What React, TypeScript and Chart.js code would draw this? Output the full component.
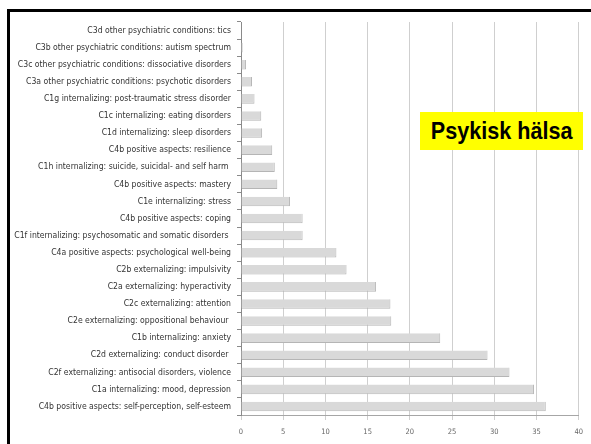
import React, { useEffect, useRef } from "react";
import { Chart, registerables } from "chart.js";

Chart.register(...registerables);

const categories: string[] = [
  "C3d other psychiatric conditions: tics",
  "C3b other psychiatric conditions: autism spectrum",
  "C3c other psychiatric conditions: dissociative disorders",
  "C3a other psychiatric conditions: psychotic disorders",
  "C1g internalizing: post-traumatic stress disorder",
  "C1c internalizing: eating disorders",
  "C1d internalizing: sleep disorders",
  "C4b positive aspects: resilience",
  "C1h internalizing: suicide, suicidal- and self harm ",
  "C4b positive aspects: mastery",
  "C1e internalizing: stress",
  "C4b positive aspects: coping",
  "C1f internalizing: psychosomatic and somatic disorders ",
  "C4a positive aspects: psychological well-being",
  "C2b externalizing: impulsivity",
  "C2a externalizing: hyperactivity",
  "C2c externalizing: attention",
  "C2e externalizing: oppositional behaviour ",
  "C1b internalizing: anxiety",
  "C2d externalizing: conduct disorder ",
  "C2f externalizing: antisocial disorders, violence",
  "C1a internalizing: mood, depression",
  "C4b positive aspects: self-perception, self-esteem",
];

const values: number[] = [
  0, 0.2, 0.6, 1.3, 1.6, 2.4, 2.5, 3.7, 4.0, 4.3, 5.8, 7.3, 7.3, 11.3, 12.5,
  16.0, 17.7, 17.8, 23.6, 29.2, 31.8, 34.7, 36.1,
];

const xTicks: number[] = [0, 5, 10, 15, 20, 25, 30, 35, 40];

const titleText = "Psykisk hälsa";

const labelFont = "'Liberation Sans Narrow', 'DejaVu Sans Condensed', 'Roboto Condensed', sans-serif";

export default function App() {
  const ref = useRef<HTMLCanvasElement | null>(null);

  useEffect(() => {
    if (!ref.current) return;
    const chart = new Chart(ref.current, {
      type: "bar",
      data: {
        labels: categories,
        datasets: [
          {
            data: values,
            backgroundColor: "#d9d9d9",
            borderColor: "#b5b5b5",
            borderWidth: { top: 0, left: 0, right: 1, bottom: 1 } as any,
            barPercentage: 0.56,
            categoryPercentage: 1,
          },
        ],
      },
      options: {
        indexAxis: "y",
        responsive: false,
        animation: false,
        devicePixelRatio: 1,
        layout: { padding: { left: 0, right: 9, top: 22, bottom: 0 } },
        plugins: {
          legend: { display: false },
          tooltip: { enabled: false },
          title: { display: false },
        },
        scales: {
          x: {
            min: 0,
            max: 40,
            afterBuildTicks: (scale: any) => {
              scale.ticks = xTicks.map((v) => ({ value: v }));
            },
            afterFit: (scale: any) => {
              scale.height = 29;
            },
            grid: {
              color: "#cfcfcf",
              lineWidth: 1,
              tickLength: 5,
              drawTicks: true,
            },
            border: { color: "#a6a6a6", width: 1 },
            ticks: {
              padding: 8,
              color: "#666",
              font: { family: labelFont, size: 7.5 },
              maxRotation: 0,
            },
          },
          y: {
            afterFit: (scale: any) => {
              scale.width = 241;
            },
            grid: {
              drawOnChartArea: false,
              color: "#8a8a8a",
              tickLength: 4,
            },
            border: { color: "#8a8a8a", width: 1 },
            ticks: {
              padding: 6,
              color: "#333",
              autoSkip: false,
              font: { family: labelFont, size: 8.6 },
            },
          },
        },
      },
    });
    return () => chart.destroy();
  }, []);

  return (
    <div
      style={{
        position: "absolute",
        left: 0,
        top: 0,
        width: 591,
        height: 444,
        background: "#fff",
        overflow: "hidden",
      }}
    >
      <canvas ref={ref} width={591} height={444} style={{ position: "absolute", left: 0, top: 0 }} />
      <div
        style={{
          position: "absolute",
          left: 7,
          top: 9,
          width: 591,
          height: 444,
          borderTop: "3px solid #000",
          borderLeft: "3px solid #000",
          pointerEvents: "none",
        }}
      />
      <div
        style={{
          position: "absolute",
          left: 420,
          top: 112,
          width: 163,
          height: 38,
          background: "#ffff00",
          display: "flex",
          alignItems: "center",
          justifyContent: "center",
          whiteSpace: "nowrap",
          fontFamily: "'Liberation Sans', Arial, sans-serif",
          fontWeight: "bold",
          fontSize: 24,
          color: "#000",
        }}
      >
        <span style={{ display: "inline-block", transform: "scaleX(0.9)" }}>{titleText}</span>
      </div>
    </div>
  );
}
